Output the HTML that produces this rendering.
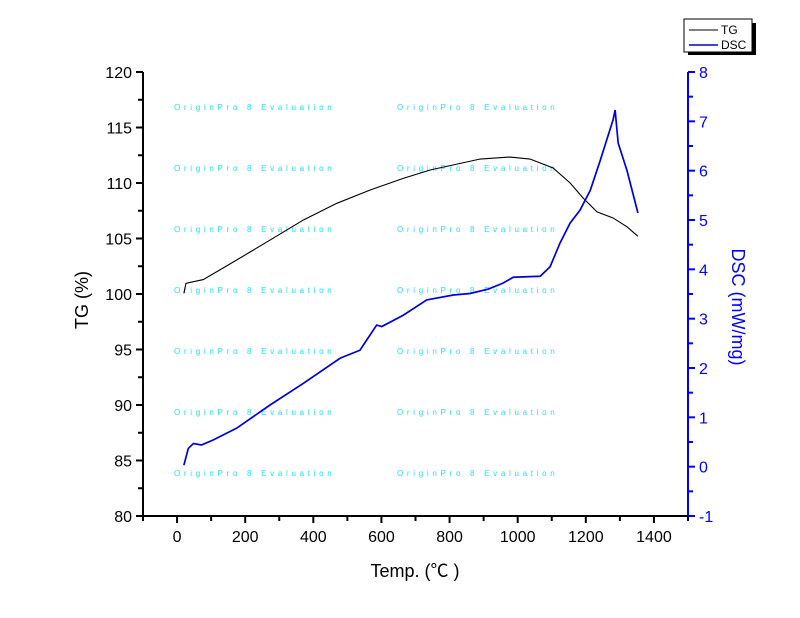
<!DOCTYPE html>
<html><head><meta charset="utf-8"><style>
body{margin:0;background:#fff;}
svg{display:block;font-family:"Liberation Sans",Arial,sans-serif;}
</style></head><body>
<svg id="chart" width="800" height="618" viewBox="0 0 800 618" xmlns="http://www.w3.org/2000/svg">
<g id="wm"></g>
<g id="axes"></g>
<g id="series"></g>
<text transform="translate(88,300) rotate(-90)" text-anchor="middle" font-size="18">TG (%)</text>
<text transform="translate(732,307) rotate(90)" text-anchor="middle" font-size="18" fill="#0000ff">DSC (mW/mg)</text>
<text x="415" y="577" text-anchor="middle" font-size="18">Temp. (<tspan font-family="'Noto Sans CJK SC',sans-serif">℃</tspan> )</text>
<g>
<rect x="688" y="23" width="68" height="32" fill="#000"/>
<rect x="684" y="19" width="68" height="33" fill="#fff" stroke="#000" stroke-width="1"/>
<line x1="689" y1="30" x2="718" y2="30" stroke="#000"/>
<text x="721" y="34" font-size="12">TG</text>
<line x1="689" y1="45" x2="718" y2="45" stroke="#0000dd" stroke-width="1.5"/>
<text x="721" y="49" font-size="12">DSC</text>
</g>
</svg>
<script>
const tgTemps=[20,26,77,175,273,371,469,567,664,743,890,978,1036,1104,1154,1192,1233,1280,1321,1353];
const tgValues=[100.06,100.96,101.3,103.06,104.86,106.67,108.17,109.37,110.42,111.17,112.16,112.34,112.16,111.35,110.0,108.65,107.4,106.85,106.05,105.2];
const dscTemps=[20,33,48,72,106,175,273,371,479,537,557,586,601,664,733,811,860,914,957,987,1066,1095,1124,1154,1183,1213,1242,1280,1286,1295,1321,1353];
const dscValues=[0.03,0.37,0.47,0.44,0.54,0.78,1.25,1.69,2.2,2.36,2.57,2.87,2.84,3.07,3.38,3.48,3.51,3.6,3.72,3.84,3.86,4.05,4.53,4.94,5.2,5.6,6.2,7.03,7.23,6.56,6.0,5.14];
const xTicks=[0,200,400,600,800,1000,1200,1400];
const yTicks=[80,85,90,95,100,105,110,115,120];
const y2Ticks=[-1,0,1,2,3,4,5,6,7,8];
const L=143,R=688,T=72,B=516;
const X=v=>L+(v+100)/1600*(R-L);
const Y=v=>B-(v-80)/40*(B-T);
const Y2=v=>B-(v+1)/9*(B-T);
const NS="http://www.w3.org/2000/svg";
function mk(tag,attrs,parent){const e=document.createElementNS(NS,tag);for(const k in attrs)e.setAttribute(k,attrs[k]);parent.appendChild(e);return e;}
const ax=document.getElementById('axes');
let e;
e=mk('line',{x1:L,y1:T,x2:L,y2:B+1,stroke:'#000','stroke-width':2},ax);


e=mk('line',{x1:L-1,y1:B,x2:R,y2:B,stroke:'#000','stroke-width':2},ax);


e=mk('line',{x1:R,y1:T,x2:R,y2:B+1,stroke:'#0000ff','stroke-width':2},ax);


for(let v=-100;v<=1500;v+=100){const major=xTicks.includes(v);mk('line',{x1:X(v),y1:B,x2:X(v),y2:B+(major?7:5),stroke:'#000','stroke-width':2},ax);}
xTicks.forEach(v=>{const t=mk('text',{x:X(v),y:B+26,'text-anchor':'middle','font-size':16},ax);t.textContent=v;

});
for(let v=80;v<=120;v+=2.5){const major=v%5===0;mk('line',{x1:L,y1:Y(v),x2:L-(major?7:5),y2:Y(v),stroke:'#000','stroke-width':2},ax);}
yTicks.forEach(v=>{const t=mk('text',{x:L-11,y:Y(v)+6,'text-anchor':'end','font-size':16},ax);t.textContent=v;

});
for(let v=-1;v<=8;v+=0.5){const major=Number.isInteger(v);mk('line',{x1:R,y1:Y2(v),x2:R+(major?7:5),y2:Y2(v),stroke:'#0000ff','stroke-width':2},ax);}
y2Ticks.forEach(v=>{const t=mk('text',{x:R+11,y:Y2(v)+6,'text-anchor':'start','font-size':16,fill:'#0000ff'},ax);t.textContent=v;

});
const wm=document.getElementById('wm');
[107,168,229,290,351,412,473].forEach(y=>[174,397].forEach(x=>{const t=mk('text',{x:x,y:y+3,'font-size':8,fill:'#22e0f0','letter-spacing':'3.7'},wm);t.textContent='OriginPro 8 Evaluation';

}));
const sr=document.getElementById('series');
const tg=mk('polyline',{points:tgTemps.map((t,i)=>X(t)+','+Y(tgValues[i])).join(' '),fill:'none',stroke:'#000','stroke-width':1.1},sr);


const dsc=mk('polyline',{points:dscTemps.map((t,i)=>X(t)+','+Y2(dscValues[i])).join(' '),fill:'none',stroke:'#0000dd','stroke-width':1.7},sr);


</script>
</body></html>
